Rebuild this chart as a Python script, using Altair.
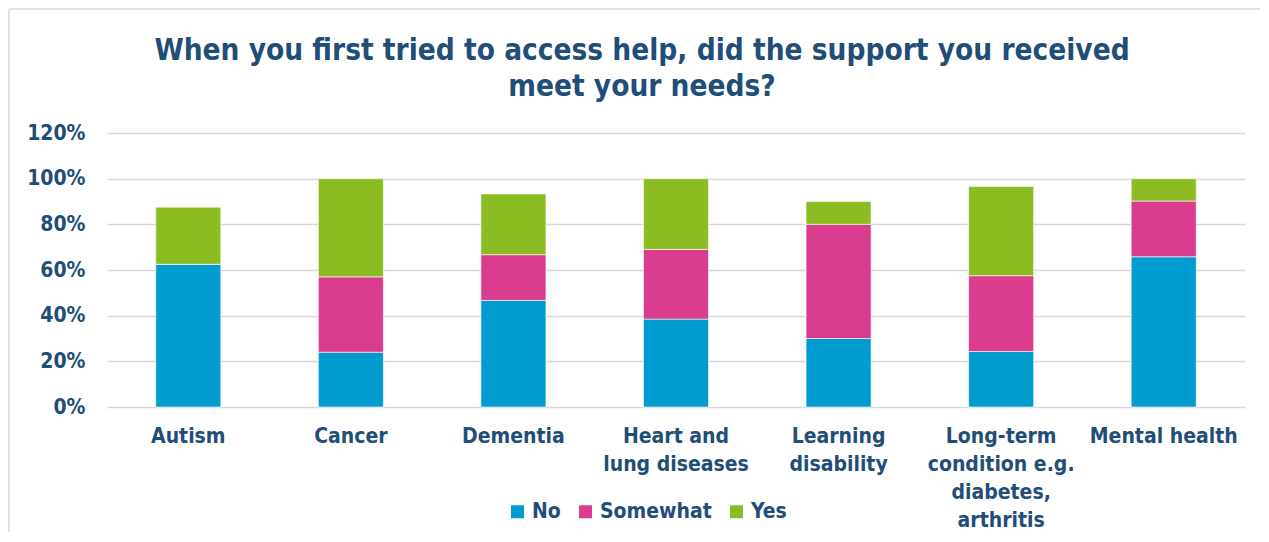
import altair as alt
import pandas as pd

categories = ["Autism", "Cancer", "Dementia", "Heart and\nlung diseases",
              "Learning\ndisability", "Long-term\ncondition e.g.\ndiabetes,\narthritis",
              "Mental health"]
series = ["No", "Somewhat", "Yes"]
no_vals = [0.625, 0.24, 0.467, 0.385, 0.30, 0.243, 0.658]
somewhat_vals = [0.0, 0.33, 0.20, 0.305, 0.50, 0.332, 0.244]
yes_vals = [0.25, 0.43, 0.266, 0.31, 0.10, 0.391, 0.098]
colors = ["#009CD0", "#DA3C8E", "#8BBD23"]
title_text = "When you first tried to access help, did the support you received\nmeet your needs?"

rows = []
for i, c in enumerate(categories):
    for j, (s, vals) in enumerate(zip(series, [no_vals, somewhat_vals, yes_vals])):
        rows.append({"category": c, "response": s, "value": vals[i], "ord": j})
df = pd.DataFrame(rows)

FONT = "DejaVu Sans Condensed"
TXT = "#1F4E79"

bars = alt.Chart(df).mark_bar(stroke="white", strokeWidth=0.6).encode(
    x=alt.X("category:N", sort=categories, title=None,
            scale=alt.Scale(paddingInner=0.6, paddingOuter=0.3),
            axis=alt.Axis(labelExpr="split(datum.label, '\\n')", labelAngle=0,
                          labelFont=FONT, labelFontSize=21, labelFontWeight="bold",
                          labelColor=TXT, labelLineHeight=28, labelPadding=18,
                          ticks=False, domain=False, grid=False, labelBaseline="top")),
    y=alt.Y("value:Q", stack="zero", title=None,
            scale=alt.Scale(domain=[0, 1.2], nice=False),
            axis=alt.Axis(values=[0, 0.2, 0.4, 0.6, 0.8, 1.0, 1.2], format=".0%",
                          labelFont=FONT, labelFontSize=21, labelFontWeight="bold",
                          labelColor=TXT, labelPadding=22, ticks=False, domain=False,
                          gridColor="#D9D9D9", gridWidth=1.5)),
    color=alt.Color("response:N", sort=series,
                    scale=alt.Scale(domain=series, range=colors),
                    legend=alt.Legend(title=None, orient="none", direction="horizontal",
                                      legendX=400, legendY=368, symbolType="square",
                                      symbolSize=169, symbolStrokeWidth=0,
                                      labelFont=FONT, labelFontSize=21,
                                      labelFontWeight="bold", labelColor=TXT,
                                      labelOffset=4, columnPadding=14, padding=0)),
    order=alt.Order("ord:Q", sort="ascending"),
)

title = alt.Chart(alt.Data(values=[{"t": title_text}])).mark_text(
    font=FONT, fontSize=29.5, fontWeight="bold", color=TXT, align="center",
    baseline="alphabetic", lineBreak="\n", lineHeight=36,
).encode(text="t:N", x=alt.value(535), y=alt.value(-73))

frame_left = alt.Chart(alt.Data(values=[{"a": 1}])).mark_rule(color="#D9D9D9", strokeWidth=1.5).encode(
    x=alt.value(-98), y=alt.value(-124), y2=alt.value(420))
frame_top = alt.Chart(alt.Data(values=[{"a": 1}])).mark_rule(color="#D9D9D9", strokeWidth=1.5).encode(
    x=alt.value(-98), x2=alt.value(1160), y=alt.value(-124))

chart = alt.layer(bars, title, frame_left, frame_top).properties(
    width=1138, height=274,
    padding={"left": 99, "top": 125, "right": 15, "bottom": 125},
    autosize=alt.AutoSizeParams(type="none"),
).configure(background="white").configure_view(strokeWidth=0, stroke=None)

chart.save("out.html", embed_options={"renderer": "svg", "actions": False})
